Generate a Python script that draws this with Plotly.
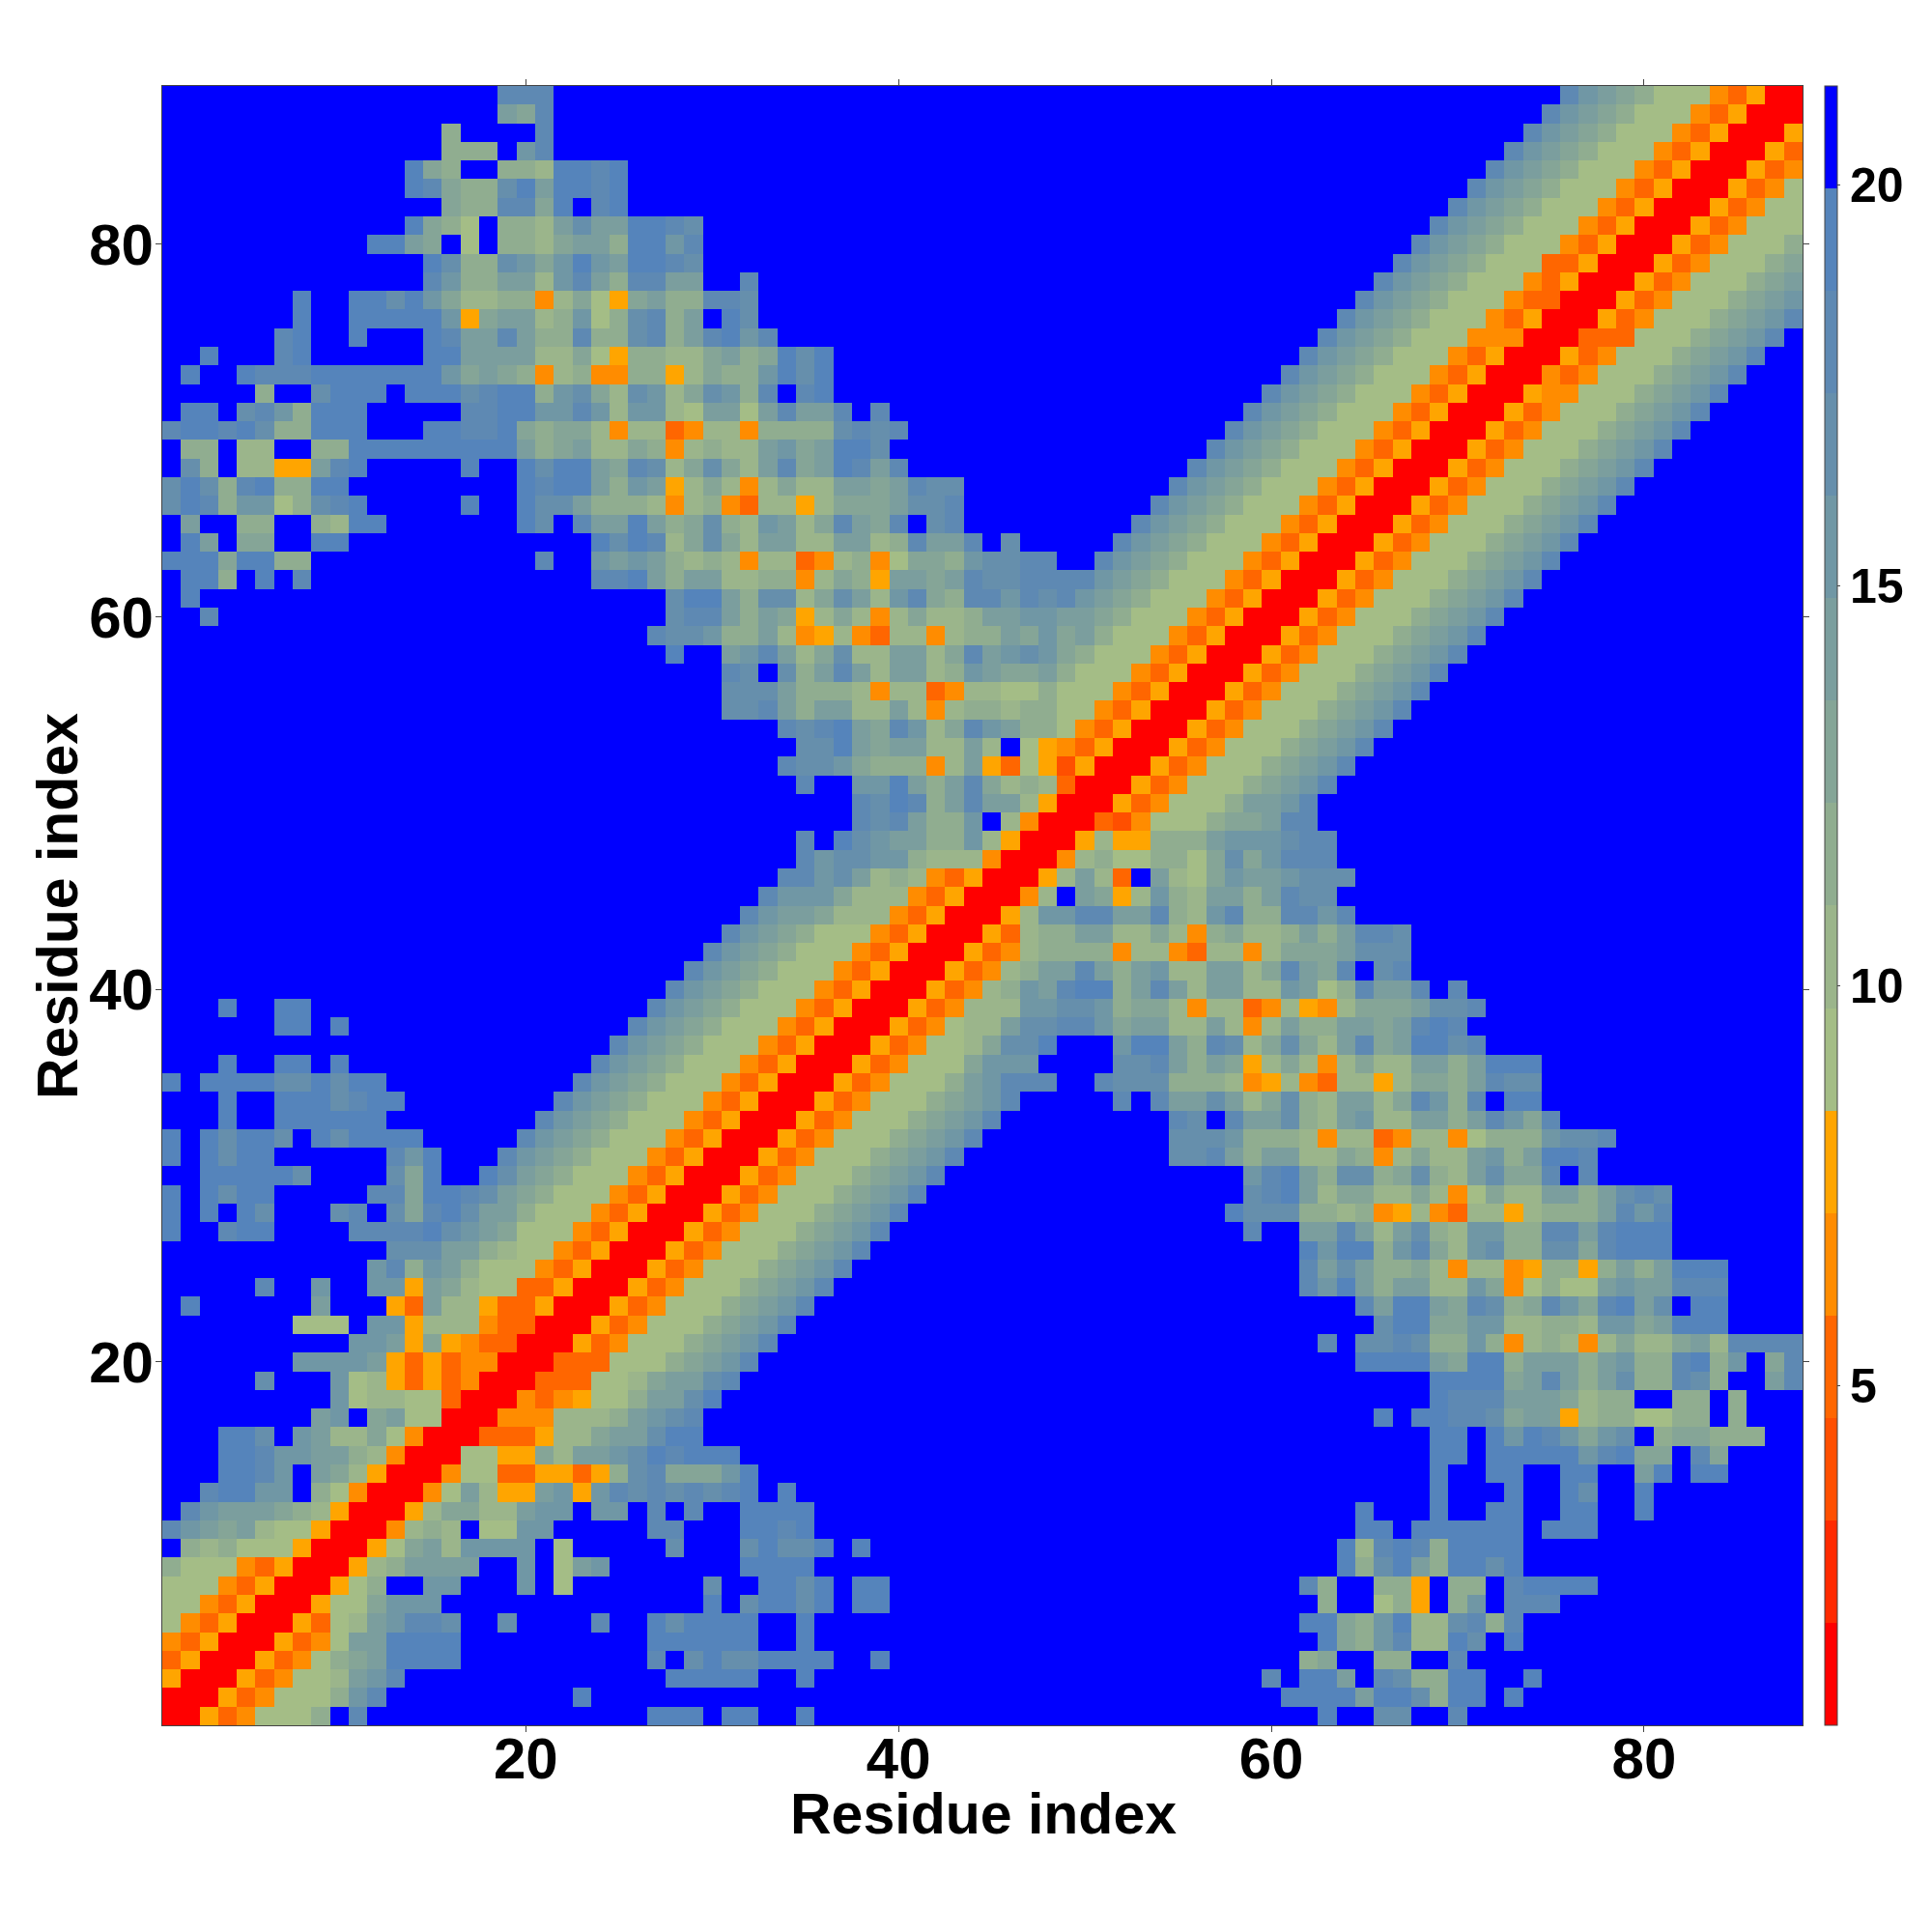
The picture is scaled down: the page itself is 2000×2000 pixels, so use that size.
import plotly.graph_objects as go

# Upper triangle of the symmetric map, one string per residue row.
# Each group is "first residue:colour-bin digits (hex)"; residues not listed fall in the top bin.
ROWS = [
"1:005346668Fd 27:eeeFee 35:e 63:e 66:cc 70:d",
"2:005346668bd 23:e 61:eeeeaeec8ee 73:e",
"3:00534667abd 28:eeeee 35:e 60:d 62:eea 66:dc88ee 74:e",
"4:00534689aeeee 27:dFceccEEEE 39:e 62:89 66:88 70:d",
"5:005346aaeeee 27:eeeeee 35:e 63:e98bd77ec 73:e",
"6:005367abddc 19:c 24:d 27:eceeee 35:e 62:ee98be77cd8d",
"7:005669bbb 30:e 32:ceece 38:ee 63:8 66:685 70:8b 73:ddd",
"8:00568FFbb 20:b 22:6 30:c 33:eece 38:ee 62:d8 66:885 70:88 73:deeee",
"9:00578aaaa 20:b 22:6ab 32:eeee 64:e8cea8eece",
"10:00569a7bbbb 22:6 28:c 32:cecce 38:e 64:e7ded8eeee",
"11:004787F66bb 27:dd 32:eede 65:ee 68:eeeeee 75:eee",
"12:00579977abbFbbFdFd 32:eeee 65:e 69:e 72:ee 76:ee 80:e",
"13:0046a755ab5bdcdcdcde 34:e 69:e 73:e 76:ec 80:e",
"14:004663355358cd999be 69:e 72:ee 76:ee 80:ae 83:ee",
"15:00665597aabcedeee 69:ee 72:eeeeebde99 83:d9",
"16:003335779aacee 69:ee 72:ebedb9bcF899888",
"17:004447778abcd 66:e 68:eeddc9aa57886688F8",
"18:004345668aace 69:edddaaa9788FF88F8",
"19:003336679aacd 69:eeee9ada8ac88dc8FFad",
"20:0033366689abd 65:eeeea9ee8aaa8ab88de8bF9d",
"21:0053466689abd 63:d 65:ccdc88b84787479779a7dddd",
"22:0053466689abd 66:cee99bb77887bb9aeee",
"23:0053466689abd 65:daeea9dc89db9deacFee",
"24:0053466689abd 62:dbea8aa77b946866abaaddd",
"25:0053466689abd 62:daca8897477458858a8aeee",
"26:0053466689abd 62:ebee8bd97bc88cc9deee",
"27:0053466689abd 59:d 62:aada7ac87bb88ddadeee",
"28:0053466689abd 58:eccc8878457437757888adbd",
"29:0053466689abd 59:cdea799779746977aa8acdc",
"30:0053466689abd 59:bdea8cc89c87ac99dFd",
"31:0053466689abd 55:ccda8aa779847977ab8aeed",
"32:0053466689abd 55:cccb8887477347746888bccd",
"33:0053466689abd 55:dcFdaac87ab77aa8adb9d",
"34:0053466689abd 52:dFdaaca79c87aa79db8dFee",
"35:005346668abddd 51:dccc8887457437757998adcc",
"36:005346669bbb 52:ccda8a9579747977aa8aeee",
"37:005346679cce 52:beea8dc79c97ad9aeecd",
"38:00534677accddb9aa77a747a88aa9aded",
"39:00534777bbccb8997477347547999accd",
"40:0053478badee8ada7aa77ba68daadFd",
"41:0053478aada8ab77aa79da9dFcd",
"42:0053478888477437747999accc",
"43:0053788aa7797489778a8addc",
"44:0057bbddaad87bd88ddbd",
"45:0047Fa957b87aa8adcc",
"46:0057a73Fa769baabccc",
"47:00478668869c9bddd",
"48:005755888abbbcdd",
"49:00324666899add",
"50:005346668aabd",
"51:0053466689abd",
"52:0053466689abd",
"53:0053466689abd",
"54:0053466689abd",
"55:0053466689abd",
"56:0053466689abd",
"57:0053466689abd",
"58:0053466689abd",
"59:0053466689abd",
"60:0053466689abd",
"61:0053466689abd",
"62:0053466689abd",
"63:0053466689abd",
"64:0053466689abd",
"65:0053466689abd",
"66:0053466689abd",
"67:0053466689abd",
"68:0053466689abd",
"69:0053466689abd",
"70:0053466689abd",
"71:0053466689abd",
"72:0054466689abd",
"73:0043466689abd",
"74:0053466689abd",
"75:0033366689abd",
"76:0053466689abd",
"77:0053466689ab",
"78:0053466689a",
"79:0053466689",
"80:005346668",
"81:00534666",
"82:0053466",
"83:005346",
"84:00534",
"85:0053",
"86:005",
"87:00",
"88:0",
]

BIN_COLOURS = ["#ff0000", "#ff2a00", "#ff4f00", "#ff6600", "#ff8c00", "#ffa500",
               "#a4bd86", "#9bb58b", "#90ad90", "#85a597", "#7b9e9e", "#7097a5",
               "#668fac", "#5e89b3", "#5584bb", "#0000ff"]
Z_MIN = 0.76
BIN_WIDTH = 1.28
RESIDUES = list(range(1, 89))
AXIS_TICKS = [20, 40, 60, 80]
BAR_TICKS = [5, 10, 15, 20]
AXIS_TITLE = "Residue index"

n = len(RESIDUES)
bins = [[15] * n for _ in range(n)]
for row_no, row in enumerate(ROWS, start=1):
    for group in row.split():
        start, digits = group.split(":")
        for k, ch in enumerate(digits):
            col = int(start) + k
            if col <= n:
                bins[row_no - 1][col - 1] = int(ch, 16)
                bins[col - 1][row_no - 1] = int(ch, 16)
z = [[Z_MIN + BIN_WIDTH * (b + 0.5) for b in r] for r in bins]

k_bins = len(BIN_COLOURS)
colorscale = []
for i, c in enumerate(BIN_COLOURS):
    colorscale.append([i / k_bins, c])
    colorscale.append([(i + 1) / k_bins, c])

FONT = "Liberation Sans"
SIZE_W = 1992
L, R, T, B = 160, 1858, 81, 1778
PW, PH = R - L, B - T

fig = go.Figure(go.Heatmap(
    x=RESIDUES, y=RESIDUES, z=z,
    zmin=Z_MIN, zmax=Z_MIN + BIN_WIDTH * k_bins,
    colorscale=colorscale,
    hoverongaps=False,
    colorbar=dict(
        thickness=13, thicknessmode="pixels",
        len=1, lenmode="fraction", y=0.5, yanchor="middle", ypad=0,
        x=(1881 - L) / PW, xanchor="left", xpad=0,
        outlinewidth=1, outlinecolor="#444444",
        ticks="outside", ticklen=3, tickwidth=1, tickcolor="#444444",
        tickvals=BAR_TICKS,
        tickfont=dict(family=FONT, size=50, color="black", weight=700),
    ),
))

axis = dict(
    range=[0.5, 88.5], tickvals=AXIS_TICKS,
    ticks="outside", ticklen=6, tickwidth=1, tickcolor="#444444",
    showline=True, linecolor="#444444", linewidth=1, mirror="ticks",
    showgrid=False, zeroline=False,
    tickfont=dict(family=FONT, size=60, color="black", weight=700),
)
title_font = dict(family=FONT, size=59, color="black", weight=700)
fig.update_layout(
    width=SIZE_W, height=SIZE_W,
    margin=dict(l=L, r=SIZE_W - R, t=T, b=SIZE_W - B, pad=0),
    paper_bgcolor="white", plot_bgcolor="white",
    font=dict(family=FONT, color="black"),
    xaxis=dict(axis, ticklabelstandoff=-24),
    yaxis=dict(axis, ticklabelstandoff=-10),
    annotations=[
        dict(text=AXIS_TITLE, xref="paper", yref="paper", showarrow=False,
             x=(1010 - L) / PW, xanchor="center",
             y=(B - 1870) / PH, yanchor="middle", font=title_font),
        dict(text=AXIS_TITLE, xref="paper", yref="paper", showarrow=False,
             textangle=-90,
             x=(52 - L) / PW, xanchor="center",
             y=(B - 930) / PH, yanchor="middle", font=title_font),
    ],
)
fig.write_html("out.html")
